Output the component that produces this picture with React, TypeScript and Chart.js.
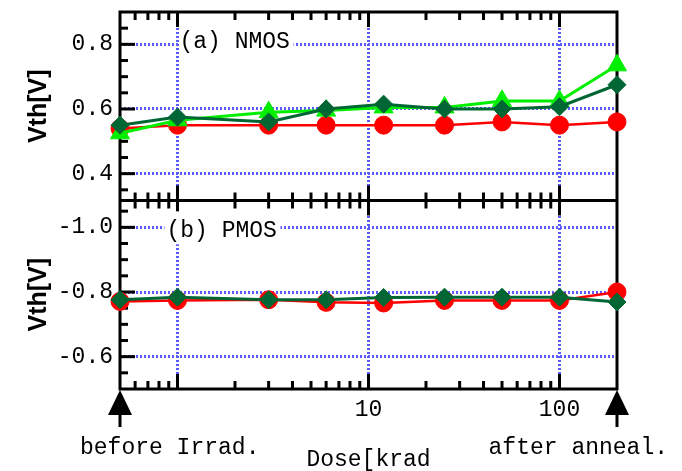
import React, { useEffect, useRef } from 'react';
import { Chart, registerables } from 'chart.js';
Chart.register(...registerables);

// ---- data ----
const doses = [0.5, 1, 3, 6, 12, 25, 50, 100, 200];
const nmosDarkGreen = [0.55, 0.575, 0.56, 0.6, 0.615, 0.6, 0.6, 0.607, 0.675];
const nmosLightGreen = [0.525, 0.565, 0.59, 0.595, 0.605, 0.605, 0.625, 0.625, 0.735];
const nmosRed = [0.54, 0.55, 0.55, 0.55, 0.55, 0.55, 0.56, 0.55, 0.56];
const pmosDarkGreen = [-0.776, -0.784, -0.776, -0.776, -0.783, -0.784, -0.784, -0.784, -0.769];
const pmosRed = [-0.771, -0.774, -0.776, -0.768, -0.766, -0.774, -0.774, -0.774, -0.8];

// ---- ticks / labels ----
const xMajorTicks = [1, 10, 100];
const xMinorTicks = [0.6, 0.7, 0.8, 0.9, 2, 3, 4, 5, 6, 7, 8, 9, 20, 30, 40, 50, 60, 70, 80, 90];
const xLabelledTicks = [10, 100];
const nmosMajorTicks = [0.4, 0.6, 0.8];
const nmosMinorTicks = [0.35, 0.45, 0.5, 0.55, 0.65, 0.7, 0.75, 0.85];
const pmosMajorTicks = [-1.0, -0.8, -0.6];
const pmosMinorTicks = [-1.05, -0.95, -0.9, -0.85, -0.75, -0.7, -0.65, -0.55];
const panelLabels = ['(a) NMOS', '(b) PMOS'];
const endLabels = ['before Irrad.', 'after anneal.'];
const xTitle = 'Dose[krad';
const yTitle = 'Vth[V]';

const MONO = '"Liberation Mono", "Courier New", monospace';
const GRID_BLUE = '#5a5aff';

const pts = (ys: number[]) => doses.map((x, i) => ({ x, y: ys[i] }));

const framePlugin = {
  id: 'frame',
  beforeDatasetsDraw(chart: any) {
    const { ctx, chartArea: a, scales } = chart;
    const xs = scales.x, yt = scales.yTop, yb = scales.yBot;
    const mid = yt.bottom;
    ctx.save();
    ctx.strokeStyle = '#000';
    ctx.lineWidth = 3;
    ctx.strokeRect(a.left, a.top, a.right - a.left, a.bottom - a.top);
    ctx.beginPath();
    ctx.moveTo(a.left, mid);
    ctx.lineTo(a.right, mid);
    ctx.stroke();
    const seg = (x1: number, y1: number, x2: number, y2: number) => {
      ctx.beginPath();
      ctx.moveTo(x1, y1);
      ctx.lineTo(x2, y2);
      ctx.stroke();
    };
    const xt = [
      ...xMajorTicks.map((v) => [v, 15]),
      ...xMinorTicks.map((v) => [v, 8]),
    ];
    for (const [v, len] of xt) {
      const px = xs.getPixelForValue(v);
      seg(px, a.top, px, a.top + len);
      seg(px, mid - len, px, mid + len);
      seg(px, a.bottom, px, a.bottom - len);
    }
    const yTicks: [any, number[], number][] = [
      [yt, nmosMajorTicks, 15],
      [yt, nmosMinorTicks, 8],
      [yb, pmosMajorTicks, 15],
      [yb, pmosMinorTicks, 8],
    ];
    for (const [sc, vals, len] of yTicks) {
      for (const v of vals) {
        const py = sc.getPixelForValue(v);
        seg(a.left, py, a.left + len, py);
      }
    }
    ctx.restore();
  },
  afterDraw(chart: any) {
    const { ctx, chartArea: a, scales } = chart;
    const xs = scales.x, yt = scales.yTop, yb = scales.yBot;
    ctx.save();
    ctx.font = `23px ${MONO}`;
    ctx.textBaseline = 'alphabetic';
    ctx.textAlign = 'left';
    // panel labels
    const p1 = xs.getPixelForValue(1);
    const ya = yt.getPixelForValue(0.8);
    ctx.fillStyle = '#fff';
    ctx.fillRect(p1 + 2, ya - 13, 114, 24);
    ctx.fillStyle = '#000';
    ctx.fillText(panelLabels[0], p1 + 2, ya + 4);
    const yb1 = yb.getPixelForValue(-1.0);
    ctx.fillStyle = '#fff';
    ctx.fillRect(p1 - 13, yb1 - 16, 116, 33);
    ctx.fillStyle = '#000';
    ctx.fillText(panelLabels[1], p1 - 11, yb1 + 10);
    // arrows marking the before / after points
    const ends = [doses[0], doses[doses.length - 1]];
    ends.forEach((v, i) => {
      const px = xs.getPixelForValue(v);
      const top = a.bottom + 1;
      ctx.beginPath();
      ctx.moveTo(px, top);
      ctx.lineTo(px + 12, top + 25);
      ctx.lineTo(px - 12, top + 25);
      ctx.closePath();
      ctx.fill();
      ctx.fillRect(px - 1.5, top + 24, 3, 13);
      if (i === 0) {
        ctx.textAlign = 'left';
        ctx.fillText(endLabels[0], px - 40, 454);
      } else {
        ctx.textAlign = 'right';
        ctx.fillText(endLabels[1], px + 51, 454);
      }
    });
    ctx.restore();
  },
};

const yFit = (s: any) => {
  s.width = 120;
  s.paddingTop = 0;
  s.paddingBottom = 0;
};

export default function App() {
  const ref = useRef<HTMLCanvasElement>(null);
  useEffect(() => {
    const tickFont = { family: MONO, size: 23 };
    const titleFont = { family: '"Liberation Sans", Arial, sans-serif', size: 25, weight: 'bold' };
    const gridOpts = (majors: number[]) => ({
      drawTicks: false,
      lineWidth: 3,
      color: (c: any) => (majors.includes(c.tick?.value) ? GRID_BLUE : 'rgba(0,0,0,0)'),
    });
    const chart = new Chart(ref.current as HTMLCanvasElement, {
      type: 'line',
      data: {
        datasets: [
          {
            data: pts(nmosDarkGreen), yAxisID: 'yTop', borderColor: '#006633', backgroundColor: '#006633',
            borderWidth: 3, pointStyle: 'rectRot', pointRadius: 9, pointBorderWidth: 1, clip: false,
          },
          {
            data: pts(nmosLightGreen), yAxisID: 'yTop', borderColor: '#00ee00', backgroundColor: '#00ee00',
            borderWidth: 3, pointStyle: 'triangle', pointRadius: 11, pointBorderWidth: 1, clip: false,
          },
          {
            data: pts(nmosRed), yAxisID: 'yTop', borderColor: '#ff0000', backgroundColor: '#ff0000',
            borderWidth: 2.5, pointStyle: 'circle', pointRadius: 9, pointBorderWidth: 1, clip: false,
          },
          {
            data: pts(pmosDarkGreen), yAxisID: 'yBot', borderColor: '#006633', backgroundColor: '#006633',
            borderWidth: 3, pointStyle: 'rectRot', pointRadius: 9, pointBorderWidth: 1, clip: false,
          },
          {
            data: pts(pmosRed), yAxisID: 'yBot', borderColor: '#ff0000', backgroundColor: '#ff0000',
            borderWidth: 2.5, pointStyle: 'circle', pointRadius: 9, pointBorderWidth: 1, clip: false,
          },
        ] as any,
      },
      options: {
        responsive: false,
        devicePixelRatio: 1,
        animation: false,
        layout: { padding: { left: 0, top: 10, right: 65, bottom: 0 } },
        plugins: { legend: { display: false }, tooltip: { enabled: false } },
        elements: { line: { tension: 0 } },
        scales: {
          x: {
            type: 'logarithmic',
            min: 0.5,
            max: 200,
            bounds: 'data',
            afterBuildTicks: (s: any) => {
              s.ticks = [...xMajorTicks, ...xMinorTicks].sort((p, q) => p - q).map((value) => ({ value }));
            },
            afterFit: (s: any) => { s.height = 82; s.paddingLeft = 0; s.paddingRight = 0; },
            ticks: {
              autoSkip: false, maxRotation: 0, padding: 7, color: '#000', font: tickFont,
              callback: (v: any) => (xLabelledTicks.includes(v) ? String(v) : ''),
            },
            grid: gridOpts(xMajorTicks),
            border: { display: false, dash: [2, 2] },
            title: { display: true, text: xTitle, color: '#000', font: { family: MONO, size: 23, lineHeight: 1 }, padding: { top: 0, bottom: 0 } },
          },
          yBot: {
            type: 'linear', position: 'left', stack: 'v', stackWeight: 1, weight: 1,
            min: -1.083, max: -0.5, reverse: true, bounds: 'data',
            afterBuildTicks: (s: any) => {
              s.ticks = [...pmosMajorTicks, ...pmosMinorTicks].sort((p, q) => p - q).map((value) => ({ value }));
            },
            afterFit: yFit,
            ticks: {
              autoSkip: false, padding: 7, color: '#000', font: tickFont,
              callback: (v: any) => (pmosMajorTicks.includes(v) ? Number(v).toFixed(1) : ''),
            },
            grid: gridOpts(pmosMajorTicks),
            border: { display: false, dash: [2, 2] },
            title: { display: true, text: yTitle, color: '#000', font: titleFont, padding: { top: 24, bottom: 0 } },
          },
          yTop: {
            type: 'linear', position: 'left', stack: 'v', stackWeight: 1, weight: 2,
            min: 0.317, max: 0.9, bounds: 'data',
            afterBuildTicks: (s: any) => {
              s.ticks = [...nmosMajorTicks, ...nmosMinorTicks].sort((p, q) => p - q).map((value) => ({ value }));
            },
            afterFit: yFit,
            ticks: {
              autoSkip: false, padding: 7, color: '#000', font: tickFont,
              callback: (v: any) => (nmosMajorTicks.includes(v) ? Number(v).toFixed(1) : ''),
            },
            grid: gridOpts(nmosMajorTicks),
            border: { display: false, dash: [2, 2] },
            title: { display: true, text: yTitle, color: '#000', font: titleFont, padding: { top: 24, bottom: 0 } },
          },
        } as any,
      },
      plugins: [framePlugin as any],
    });
    return () => chart.destroy();
  }, []);
  return (
    <canvas
      ref={ref}
      width={682}
      height={471}
      style={{ position: 'fixed', left: 0, top: 0, width: '682px', height: '471px', display: 'block' }}
    />
  );
}
